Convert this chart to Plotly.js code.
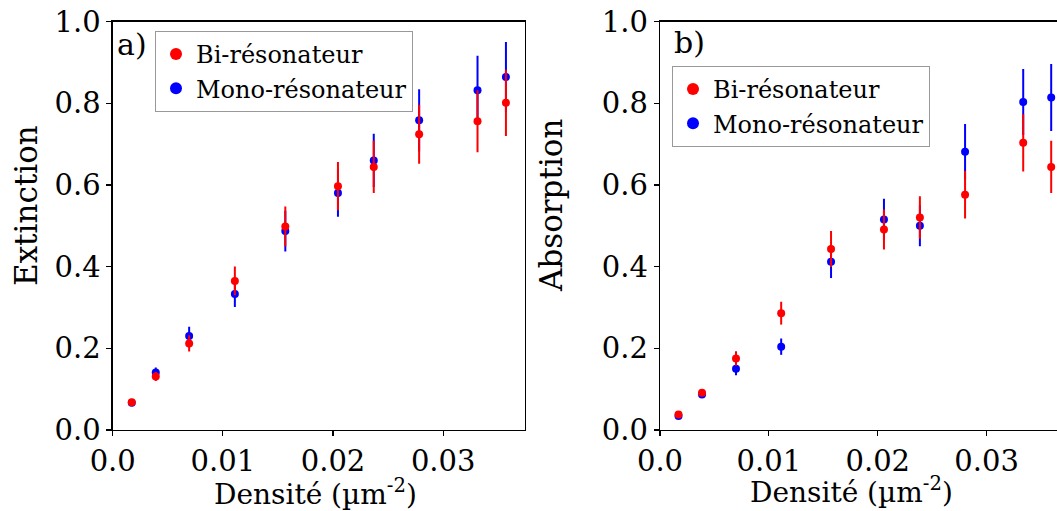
<!DOCTYPE html>
<html>
<head>
<meta charset="utf-8">
<script src="https://cdn.plot.ly/plotly-3.0.1.min.js"></script>
<style>html,body{margin:0;padding:0;background:#fff;}#chart{width:1057px;height:511px;}</style>
</head>
<body>
<div id="chart"></div>
<script>
// ---- Data ----
const densityA = [0.00173, 0.00391, 0.00694, 0.01109, 0.01567, 0.02045, 0.0237, 0.02782, 0.03312, 0.0357];
const extinctionBi = [0.068, 0.131, 0.212, 0.365, 0.498, 0.597, 0.644, 0.724, 0.756, 0.801];
const extinctionBiErr = [0.005, 0.011, 0.020, 0.035, 0.049, 0.059, 0.064, 0.072, 0.076, 0.081];
const extinctionMono = [0.067, 0.141, 0.230, 0.333, 0.487, 0.580, 0.660, 0.758, 0.832, 0.864];
const extinctionMonoErr = [0.005, 0.012, 0.023, 0.032, 0.050, 0.058, 0.065, 0.076, 0.084, 0.086];

const densityB = [0.0017, 0.00386, 0.00698, 0.01113, 0.01571, 0.02057, 0.02387, 0.02802, 0.03336, 0.03593];
const absorptionBi = [0.038, 0.091, 0.175, 0.286, 0.443, 0.491, 0.520, 0.576, 0.703, 0.644];
const absorptionBiErr = [0.004, 0.006, 0.018, 0.028, 0.044, 0.049, 0.052, 0.058, 0.070, 0.064];
const absorptionMono = [0.034, 0.087, 0.150, 0.204, 0.412, 0.515, 0.500, 0.681, 0.803, 0.814];
const absorptionMonoErr = [0.004, 0.006, 0.016, 0.020, 0.040, 0.051, 0.050, 0.068, 0.081, 0.082];

const xTickVals = [0, 0.01, 0.02, 0.03];
const xTickText = ['0.0', '0.01', '0.02', '0.03'];
const yTickVals = [0, 0.2, 0.4, 0.6, 0.8, 1.0];
const yTickText = ['0.0', '0.2', '0.4', '0.6', '0.8', '1.0'];
const labelBi = 'Bi-résonateur';
const labelMono = 'Mono-résonateur';

// ---- Styles ----
const RED = '#ff0000', BLUE = '#0000ff';
const FONT = 'DejaVu Serif';
function trace(x, y, err, color, name, xa, ya, leg) {
  return {
    type: 'scatter', mode: 'markers', x: x, y: y, name: name,
    xaxis: xa, yaxis: ya, legend: leg,
    marker: {color: color, size: 8},
    error_y: {type: 'data', array: err, visible: true, color: color, thickness: 2, width: 0}
  };
}
const data = [
  trace(densityA, extinctionMono, extinctionMonoErr, BLUE, labelMono, 'x', 'y', 'legend'),
  trace(densityA, extinctionBi, extinctionBiErr, RED, labelBi, 'x', 'y', 'legend'),
  trace(densityB, absorptionMono, absorptionMonoErr, BLUE, labelMono, 'x2', 'y2', 'legend2'),
  trace(densityB, absorptionBi, absorptionBiErr, RED, labelBi, 'x2', 'y2', 'legend2')
];

const W = 1057, H = 511;
const axisBase = {
  showgrid: false, zeroline: false, showline: true, linecolor: '#000', linewidth: 1.3,
  ticks: 'outside', ticklen: 5, tickwidth: 1.2, tickcolor: '#000',
  tickfont: {family: FONT, size: 29, color: '#000'}
};
const yDomain = [(H - 430) / H, (H - 21.5) / H];
const legendBase = {
  xanchor: 'left', yanchor: 'top', bgcolor: '#fff', bordercolor: '#999', borderwidth: 1,
  font: {family: FONT, size: 24, color: '#000'}, traceorder: 'reversed', itemsizing: 'constant'
};
const txt = (size) => ({family: FONT, size: size, color: '#000'});
const layout = {
  width: W, height: H,
  margin: {l: 0, r: 0, t: 0, b: 0},
  paper_bgcolor: '#fff', plot_bgcolor: '#fff',
  showlegend: true,
  xaxis: Object.assign({}, axisBase, {domain: [112.7 / W, 525 / W], range: [0, 0.03743], mirror: true,
    tickvals: xTickVals, ticktext: xTickText, anchor: 'y'}),
  yaxis: Object.assign({}, axisBase, {domain: yDomain, range: [0, 1], mirror: true,
    tickvals: yTickVals, ticktext: yTickText, anchor: 'x'}),
  xaxis2: Object.assign({}, axisBase, {domain: [660 / W, 1], range: [0, (1057 - 659) / 10915], mirror: true,
    tickvals: xTickVals, ticktext: xTickText, anchor: 'y2'}),
  yaxis2: Object.assign({}, axisBase, {domain: yDomain, range: [0, 1], mirror: false,
    tickvals: yTickVals, ticktext: yTickText, anchor: 'x2'}),
  legend: Object.assign({}, legendBase, {x: 155 / W, y: 1 - 31 / H}),
  legend2: Object.assign({}, legendBase, {x: 672 / W, y: 1 - 66 / H}),
  annotations: [
    {text: 'a)', xref: 'paper', yref: 'paper', x: 115 / W, y: 1 - 45 / H, xanchor: 'left', yanchor: 'middle',
     showarrow: false, font: txt(30)},
    {text: 'b)', xref: 'paper', yref: 'paper', x: 672 / W, y: 1 - 42 / H, xanchor: 'left', yanchor: 'middle',
     showarrow: false, font: txt(30)},
    {text: 'Extinction', xref: 'paper', yref: 'paper', x: 26 / W, y: 1 - 206 / H, textangle: -90,
     xanchor: 'center', yanchor: 'middle', showarrow: false, font: txt(31)},
    {text: 'Absorption', xref: 'paper', yref: 'paper', x: 551 / W, y: 1 - 205 / H, textangle: -90,
     xanchor: 'center', yanchor: 'middle', showarrow: false, font: txt(31)},
    {text: 'Densité (µm<sup>-2</sup>)', xref: 'paper', yref: 'paper', x: 315 / W, y: 1 - 492 / H,
     xanchor: 'center', yanchor: 'middle', showarrow: false, font: txt(28)},
    {text: 'Densité (µm<sup>-2</sup>)', xref: 'paper', yref: 'paper', x: 851 / W, y: 1 - 490 / H,
     xanchor: 'center', yanchor: 'middle', showarrow: false, font: txt(28)}
  ]
};
Plotly.newPlot('chart', data, layout, {displayModeBar: false, staticPlot: true});
</script>
</body>
</html>
